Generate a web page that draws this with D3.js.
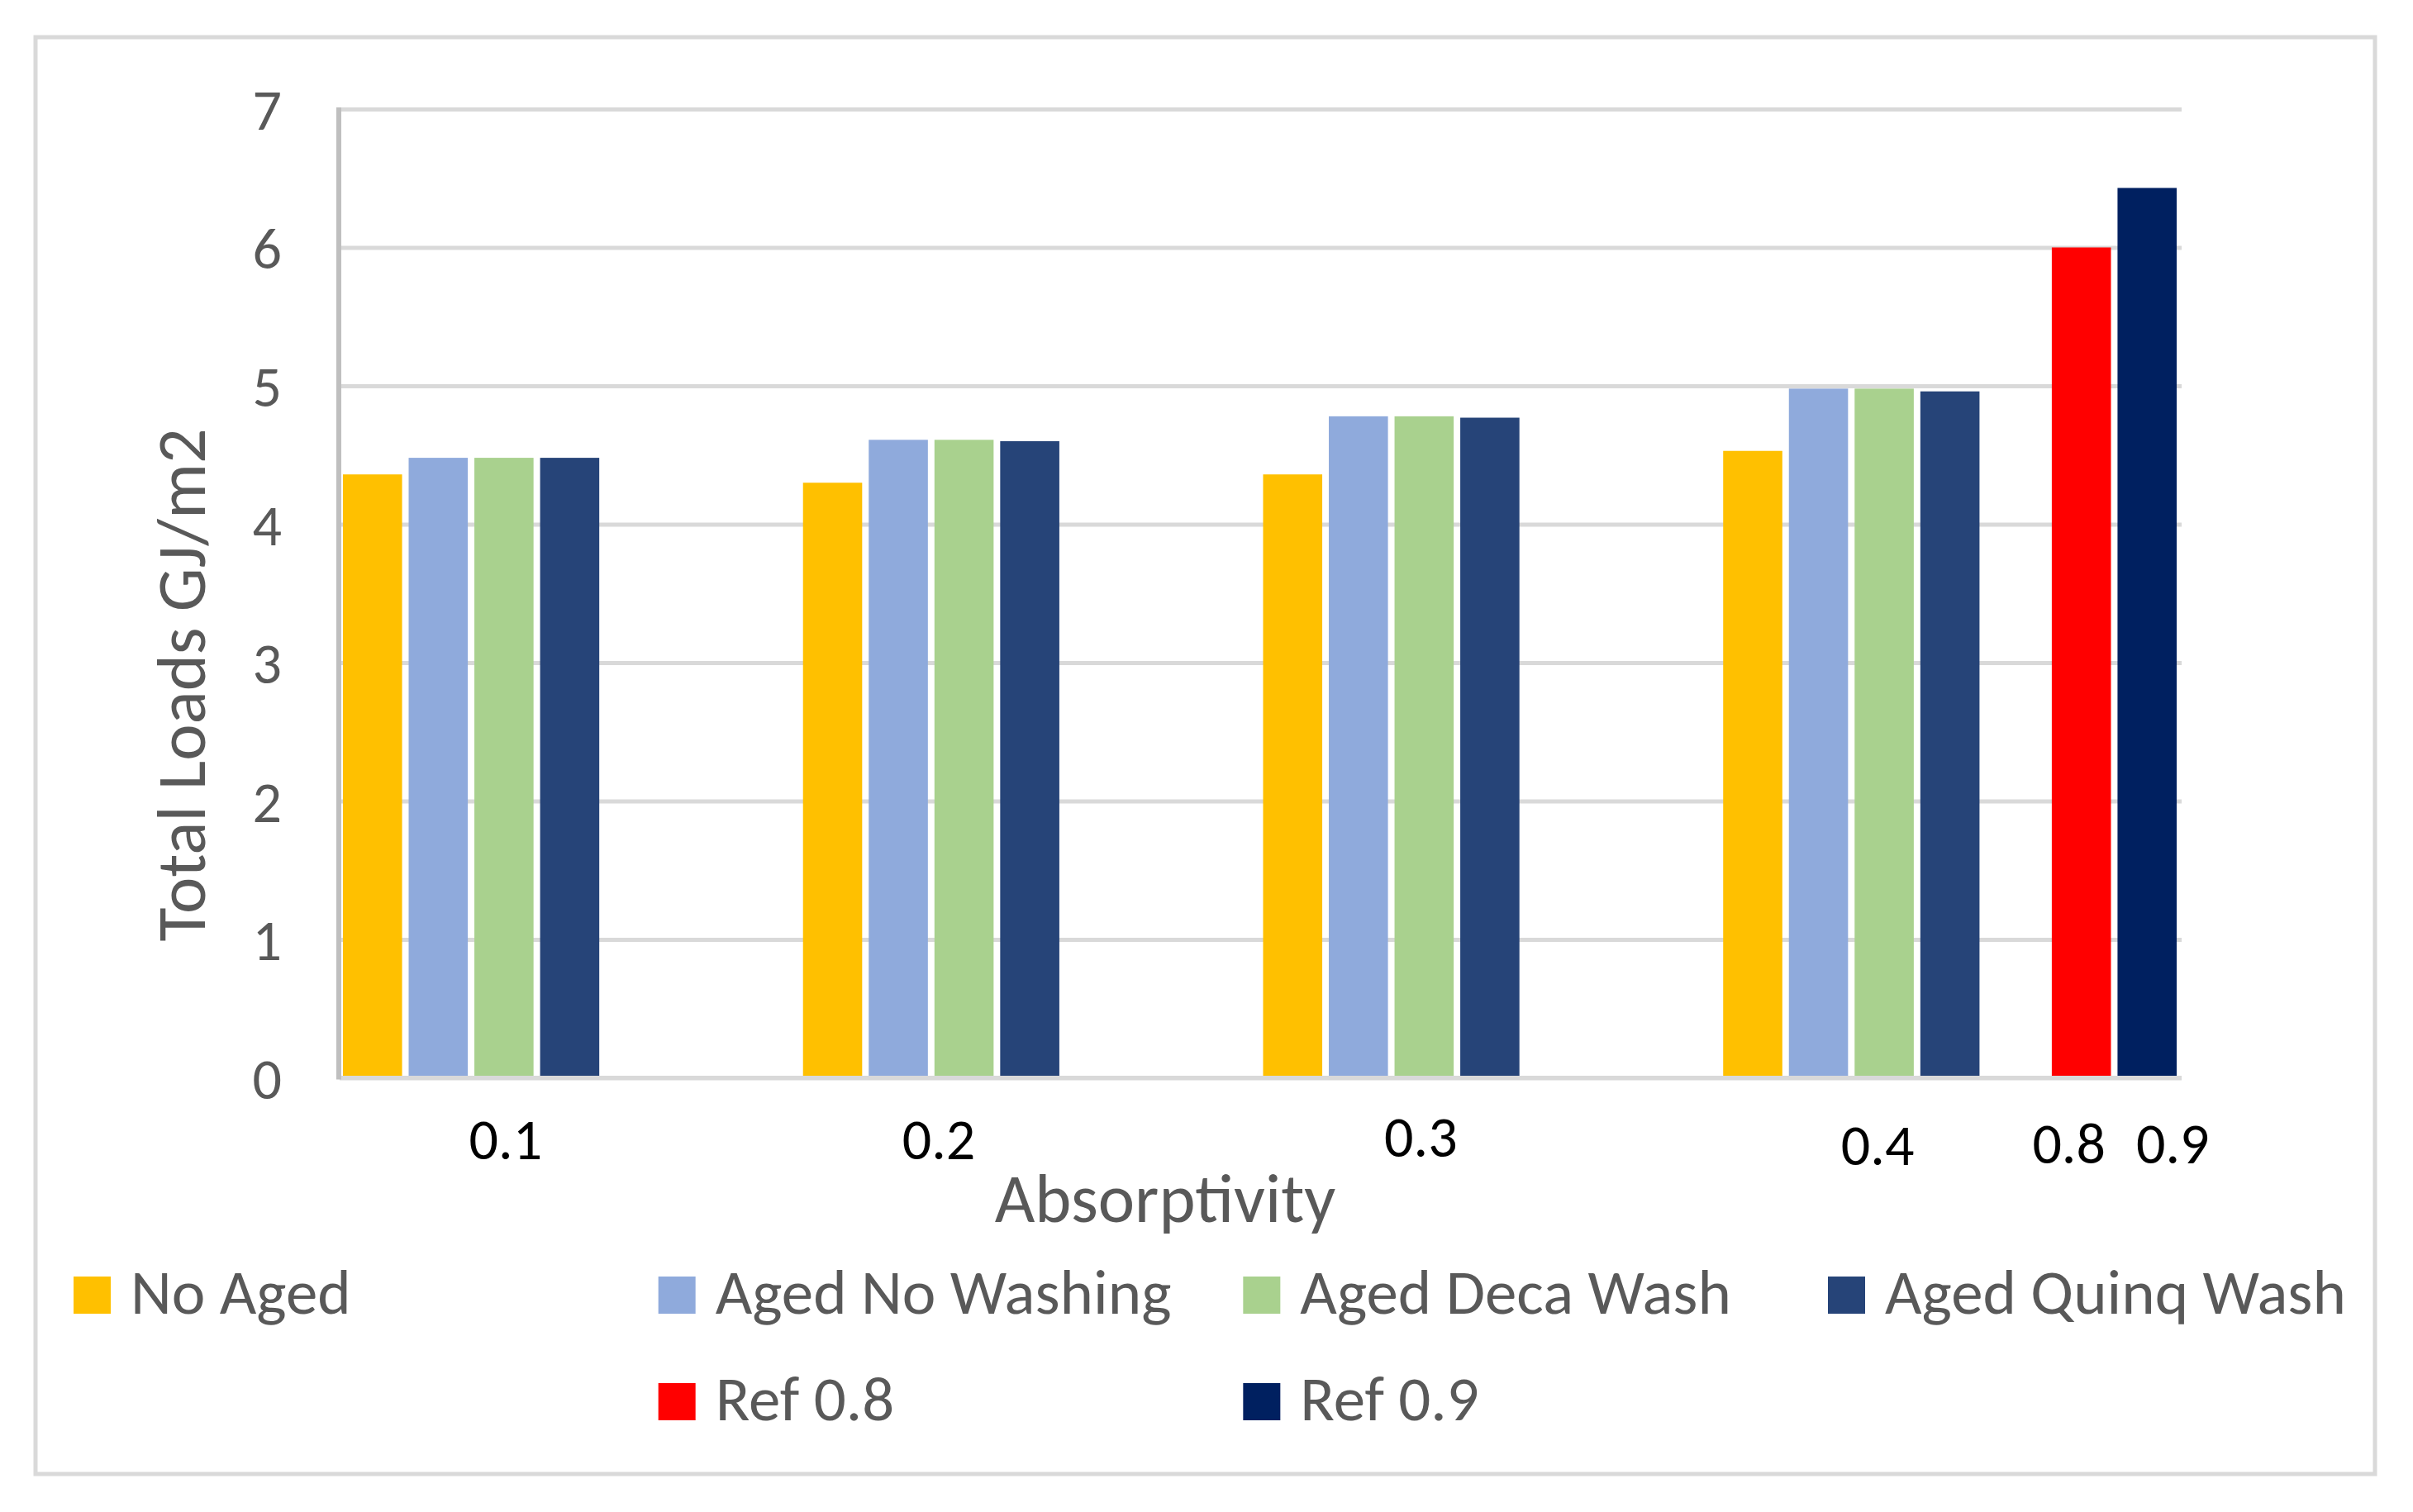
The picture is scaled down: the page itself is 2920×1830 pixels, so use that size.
<!DOCTYPE html>
<html>
<head>
<meta charset="utf-8">
<script src="https://cdn.jsdelivr.net/npm/d3@7"></script>
<style>
  body { margin: 0; background: #fff; }
  svg { display: block; font-family: Carlito, Lato, "Open Sans", sans-serif; }
  svg text { font-family: Carlito, Lato, "Open Sans", sans-serif; }
</style>
</head>
<body>
<svg></svg>
<script>
// absorptivity chart
const categories = ["0.1", "0.2", "0.3", "0.4"];
const seriesNames = ["No Aged", "Aged No Washing", "Aged Deca Wash", "Aged Quinq Wash", "Ref 0.8", "Ref 0.9"];
const noAged = [4.36, 4.30, 4.36, 4.53];
const agedNoWashing = [4.48, 4.61, 4.78, 4.98];
const agedDecaWash = [4.48, 4.61, 4.78, 4.98];
const agedQuinqWash = [4.48, 4.60, 4.77, 4.96];
const ref08 = [null, null, null, 6.00];
const ref09 = [null, null, null, 6.43];
const yTicks = [0, 1, 2, 3, 4, 5, 6, 7];
const xTickLabels = ["0.1", "0.2", "0.3", "0.4", "0.8", "0.9"];

const seriesValues = [noAged, agedNoWashing, agedDecaWash, agedQuinqWash, ref08, ref09];
const colors = ["#FFC000", "#8FAADC", "#A9D18E", "#264478", "#FF0000", "#002060"];

const width = 2920, height = 1830;
const svg = d3.select("svg").attr("width", width).attr("height", height);

// outer chart frame
svg.append("rect")
  .attr("x", 43).attr("y", 45).attr("width", 2831).attr("height", 1739)
  .attr("fill", "#fff").attr("stroke", "#d9d9d9").attr("stroke-width", 5);

const plot = { left: 411, right: 2640, top: 132, bottom: 1304.5 };

const y = d3.scaleLinear().domain([0, 7]).range([plot.bottom, plot.top]);
const x0 = d3.scaleBand().domain(categories).range([plot.left, 2638]);
// one empty slot between the aged series and the ref series
const slots = ["No Aged", "Aged No Washing", "Aged Deca Wash", "Aged Quinq Wash", "_gap", "Ref 0.8", "Ref 0.9"];
const x1 = d3.scaleBand().domain(slots).range([0, x0.bandwidth()]).paddingInner(0.1).paddingOuter(0.05);

// gridlines + y labels
const yAxis = d3.axisLeft(y).tickValues(yTicks).tickSize(-(plot.right - plot.left)).tickFormat(d3.format("d")).tickPadding(70);
const gy = svg.append("g").attr("transform", `translate(${plot.left},0)`).call(yAxis)
  .attr("font-family", null);
gy.select(".domain").remove();
gy.selectAll(".tick line").attr("stroke", "#d9d9d9").attr("stroke-width", 5);
gy.selectAll(".tick text")
  .attr("fill", "#595959").attr("font-size", 70).attr("dy", "0.35em");

// bars
const bars = [];
seriesNames.forEach((name, si) => {
  seriesValues[si].forEach((v, ci) => {
    if (v != null) bars.push({ name, cat: categories[ci], value: v, color: colors[si] });
  });
});
svg.append("g").selectAll("rect").data(bars).join("rect")
  .attr("x", d => x0(d.cat) + x1(d.name))
  .attr("width", x1.bandwidth())
  .attr("y", d => y(d.value))
  .attr("height", d => y(0) - y(d.value))
  .attr("fill", d => d.color);

// axis lines
svg.append("line")
  .attr("x1", plot.left).attr("x2", plot.right).attr("y1", y(0)).attr("y2", y(0))
  .attr("stroke", "#d9d9d9").attr("stroke-width", 5);
svg.append("line")
  .attr("x1", plot.left - 1).attr("x2", plot.left - 1).attr("y1", y(7) - 2).attr("y2", y(0) + 2)
  .attr("stroke", "#bfbfbf").attr("stroke-width", 6);

// category labels (placed as text boxes in the original)
const labelPlace = [
  { cat: "0.1", slot: "Aged Deca Wash", dx: 2, base: 1403 },
  { cat: "0.2", slot: "Aged No Washing", dx: 49, base: 1403 },
  { cat: "0.3", slot: "Aged Deca Wash", dx: -4, base: 1400 },
  { cat: "0.4", slot: "Aged Deca Wash", dx: -8, base: 1410 },
  { cat: "0.4", slot: "Ref 0.8", dx: -15, base: 1408 },
  { cat: "0.4", slot: "Ref 0.9", dx: 31, base: 1408 }
];
svg.append("g").selectAll("text").data(xTickLabels).join("text")
  .attr("x", (d, i) => x0(labelPlace[i].cat) + x1(labelPlace[i].slot) + x1.bandwidth() / 2 + labelPlace[i].dx)
  .attr("y", (d, i) => labelPlace[i].base)
  .attr("text-anchor", "middle").attr("font-size", 70).attr("fill", "#000")
  .text(d => d);

// axis titles
svg.append("text")
  .attr("x", 1410).attr("y", 1479)
  .attr("text-anchor", "middle").attr("font-size", 84).attr("fill", "#595959")
  .text("Absorptivity");
svg.append("text")
  .attr("transform", "translate(248,829) rotate(-90)")
  .attr("text-anchor", "middle").attr("font-size", 84).attr("fill", "#595959")
  .text("Total Loads GJ/m2");

// legend
const legendPos = [[0, 0], [0, 1], [0, 2], [0, 3], [1, 1], [1, 2]];
const legCol = d3.scaleLinear().domain([0, 3]).range([89, 2212]);
const legRow = d3.scaleLinear().domain([0, 1]).range([1590, 1719]);
const leg = svg.append("g").selectAll("g").data(seriesNames).join("g")
  .attr("transform", (d, i) => `translate(${legCol(legendPos[i][1])},${legRow(legendPos[i][0])})`);
leg.append("rect")
  .attr("x", 0).attr("y", -45).attr("width", 45).attr("height", 45)
  .attr("fill", (d, i) => colors[i]);
leg.append("text")
  .attr("x", 69).attr("y", 0)
  .attr("font-size", 77).attr("fill", "#595959")
  .text(d => d);
</script>
</body>
</html>
